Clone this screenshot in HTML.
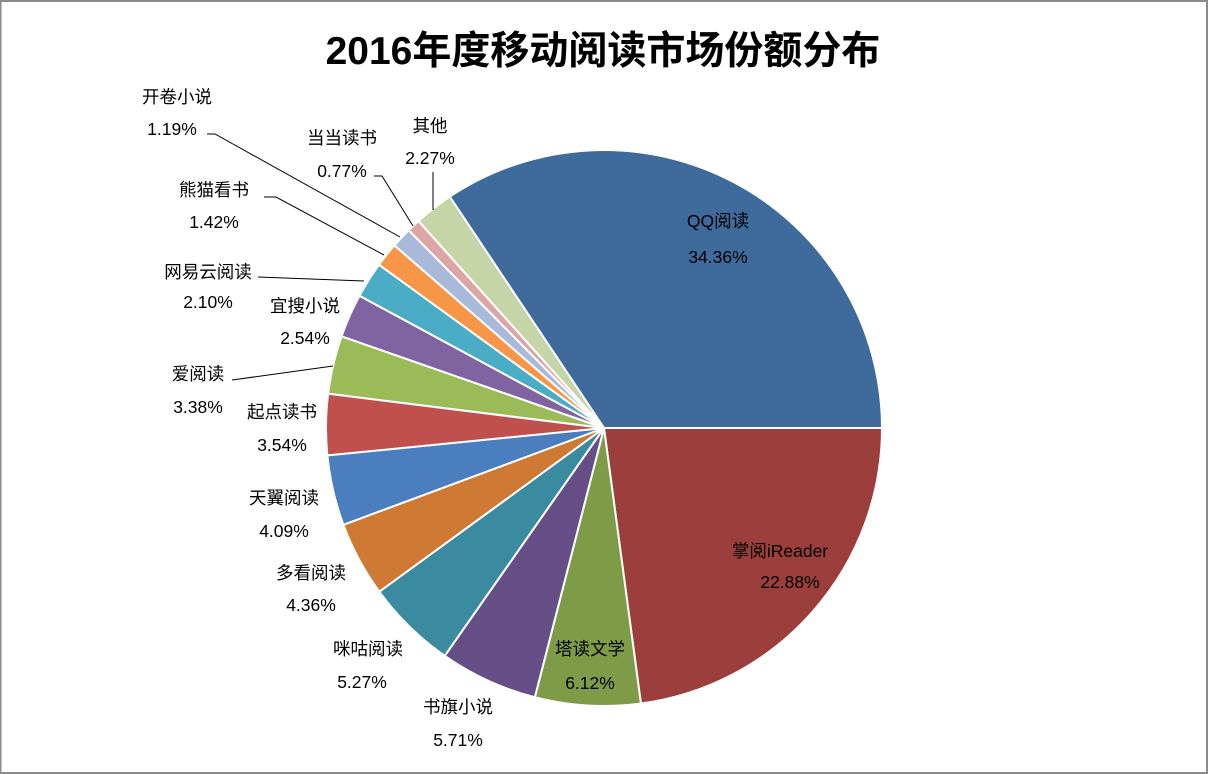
<!DOCTYPE html>
<html><head><meta charset="utf-8"><style>
html,body{margin:0;padding:0;background:#fff}
#wrap{position:relative;width:1208px;height:774px;overflow:hidden}
svg text{font-family:"Liberation Sans","Noto Sans CJK SC",sans-serif}
</style></head><body>
<div id="wrap">
<svg id="chart" width="1208" height="774">
<rect x="0.5" y="1" width="1206.5" height="772" fill="#fff" stroke="#8a8a8a" stroke-width="2"/>
<text x="603" y="64" text-anchor="middle" font-size="39" font-weight="bold" fill="#000">2016年度移动阅读市场份额分布</text>
<g id="slices"></g>
<g id="leaders"></g>
<g id="labels"></g>
</svg>
</div>
<script>
const categories=["QQ阅读","掌阅iReader","塔读文学","书旗小说","咪咕阅读","多看阅读","天翼阅读","起点读书","爱阅读","宜搜小说","网易云阅读","熊猫看书","开卷小说","当当读书","其他"];
const shares=[34.36,22.88,6.12,5.71,5.27,4.36,4.09,3.54,3.38,2.54,2.10,1.42,1.19,0.77,2.27];
const valueLabels=["34.36%","22.88%","6.12%","5.71%","5.27%","4.36%","4.09%","3.54%","3.38%","2.54%","2.10%","1.42%","1.19%","0.77%","2.27%"];
const colors=["#3F6A9C","#9C3E3C","#7E9B48","#664F86","#3A8AA0","#CE7A34","#4A7EBE","#C0504D","#9BBB59","#8064A2","#4BACC6","#F79646","#A9B9D9","#DDA5A5","#C6D5A8"];
const labelPos=[[718,221,718,257],[780,551,790,582],[590,649,590,683],[458,707,458,740],[368,649,362,682],[311,573,311,605],[284,498,284,531],[282,412,282,445],[198,374,198,407],[305,306,305,338],[208,272,208,302],[214,190,214,222],[177,97,172,129],[342,138,342,171],[430,126,430,158]];
const leaderLines=[[12,"207,134 215,134 400,237"],[13,"374,176 382,176 413,226"],[14,"433,172 433,210"],[11,"264,197 276,197 384,255"],[10,"258,277 364,281"],[8,"232,380 333,366"]];
const NS="http://www.w3.org/2000/svg";
const cx=604,cy=428,r=278;
const total=shares.reduce((a,b)=>a+b,0);
const sg=document.getElementById('slices');
let start=90-shares[0]/total*360;
function pt(a){const t=(a-90)*Math.PI/180;return [cx+r*Math.cos(t),cy+r*Math.sin(t)];}
shares.forEach((v,i)=>{
  const sweep=v/total*360;const end=start+sweep;
  const p0=pt(start),p1=pt(end);
  const p=document.createElementNS(NS,'path');
  p.setAttribute('d',`M${cx},${cy} L${p0[0]},${p0[1]} A${r},${r} 0 ${sweep>180?1:0} 1 ${p1[0]},${p1[1]} Z`);
  p.setAttribute('fill',colors[i]);p.setAttribute('stroke','#fff');p.setAttribute('stroke-width','2');
  
  
  sg.appendChild(p);
  start=end;
});
const lg=document.getElementById('leaders');
leaderLines.forEach(l=>{
  const pl=document.createElementNS(NS,'polyline');
  pl.setAttribute('points',l[1]);pl.setAttribute('fill','none');pl.setAttribute('stroke','#000');pl.setAttribute('stroke-width','1');
  
  
  lg.appendChild(pl);
});
const tg=document.getElementById('labels');
categories.forEach((c,i)=>{
  const lp=labelPos[i];
  const t1=document.createElementNS(NS,'text');
  t1.setAttribute('x',lp[0]);t1.setAttribute('y',lp[1]+6);t1.setAttribute('text-anchor','middle');t1.setAttribute('font-size','17.5');
  t1.textContent=c;
  
  
  tg.appendChild(t1);
  const t2=document.createElementNS(NS,'text');
  t2.setAttribute('x',lp[2]);t2.setAttribute('y',lp[3]+6);t2.setAttribute('text-anchor','middle');t2.setAttribute('font-size','17.5');
  t2.textContent=valueLabels[i];
  
  
  tg.appendChild(t2);
});
</script>
</body></html>
